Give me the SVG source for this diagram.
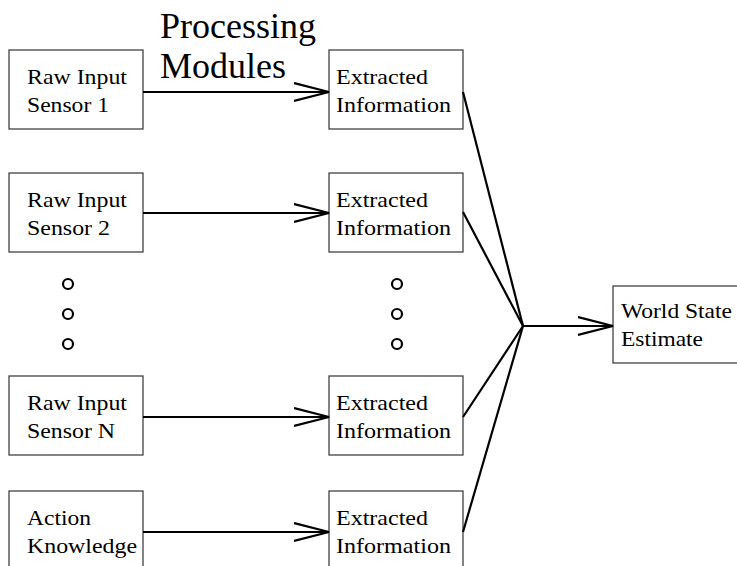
<svg xmlns="http://www.w3.org/2000/svg" width="737" height="566" viewBox="0 0 737 566">
  <style>
    .box { fill: #fff; stroke: #333; stroke-width: 1.2; }
    .lbl { font-family: "Liberation Serif", "Times New Roman", serif; font-size: 22px; fill: #000; }
    .title { font-family: "Liberation Serif", "Times New Roman", serif; font-size: 36px; fill: #000; }
    .wire { fill: none; stroke: #000; stroke-width: 2.2; }
    .dot { fill: none; stroke: #000; stroke-width: 2.2; }
  </style>
  <defs>
    <marker id="vee" markerUnits="userSpaceOnUse" markerWidth="40" markerHeight="24" refX="35" refY="10" orient="auto">
      <path d="M0,1 L35,10 L0,19" fill="none" stroke="#000" stroke-width="2.2"/>
    </marker>
  </defs>

  <rect width="737" height="566" fill="#fff"/>

  <text class="title" x="160" y="38">Processing</text>
  <text class="title" x="160" y="78">Modules</text>

  <!-- sources -->
  <g id="sensor1">
    <rect class="box" x="9" y="50" width="134" height="79"/>
    <text class="lbl" x="27" y="84" textLength="100" lengthAdjust="spacingAndGlyphs">Raw Input</text>
    <text class="lbl" x="27" y="112" textLength="82" lengthAdjust="spacingAndGlyphs">Sensor 1</text>
  </g>
  <g id="sensor2">
    <rect class="box" x="9" y="173" width="134" height="79"/>
    <text class="lbl" x="27" y="207" textLength="100" lengthAdjust="spacingAndGlyphs">Raw Input</text>
    <text class="lbl" x="27" y="235" textLength="83" lengthAdjust="spacingAndGlyphs">Sensor 2</text>
  </g>
  <g id="sensorN">
    <rect class="box" x="9" y="376" width="134" height="79"/>
    <text class="lbl" x="27" y="410" textLength="100" lengthAdjust="spacingAndGlyphs">Raw Input</text>
    <text class="lbl" x="27" y="438" textLength="88" lengthAdjust="spacingAndGlyphs">Sensor N</text>
  </g>
  <g id="action">
    <rect class="box" x="9" y="491" width="134" height="79"/>
    <text class="lbl" x="27" y="525" textLength="64" lengthAdjust="spacingAndGlyphs">Action</text>
    <text class="lbl" x="27" y="553" textLength="110" lengthAdjust="spacingAndGlyphs">Knowledge</text>
  </g>

  <!-- extracted information -->
  <g id="info1">
    <rect class="box" x="329" y="50" width="134" height="79"/>
    <text class="lbl" x="336" y="84" textLength="92" lengthAdjust="spacingAndGlyphs">Extracted</text>
    <text class="lbl" x="336" y="112" textLength="115" lengthAdjust="spacingAndGlyphs">Information</text>
  </g>
  <g id="info2">
    <rect class="box" x="329" y="173" width="134" height="79"/>
    <text class="lbl" x="336" y="207" textLength="92" lengthAdjust="spacingAndGlyphs">Extracted</text>
    <text class="lbl" x="336" y="235" textLength="115" lengthAdjust="spacingAndGlyphs">Information</text>
  </g>
  <g id="infoN">
    <rect class="box" x="329" y="376" width="134" height="79"/>
    <text class="lbl" x="336" y="410" textLength="92" lengthAdjust="spacingAndGlyphs">Extracted</text>
    <text class="lbl" x="336" y="438" textLength="115" lengthAdjust="spacingAndGlyphs">Information</text>
  </g>
  <g id="infoAction">
    <rect class="box" x="329" y="491" width="134" height="79"/>
    <text class="lbl" x="336" y="525" textLength="92" lengthAdjust="spacingAndGlyphs">Extracted</text>
    <text class="lbl" x="336" y="553" textLength="115" lengthAdjust="spacingAndGlyphs">Information</text>
  </g>

  <!-- fused result -->
  <g id="world">
    <rect class="box" x="613" y="286" width="135" height="77"/>
    <text class="lbl" x="621" y="318" textLength="111" lengthAdjust="spacingAndGlyphs">World State</text>
    <text class="lbl" x="621" y="346" textLength="82" lengthAdjust="spacingAndGlyphs">Estimate</text>
  </g>

  <!-- ellipsis dots -->
  <g id="ellipsis">
    <circle class="dot" cx="68" cy="284" r="5"/>
    <circle class="dot" cx="68" cy="314" r="5"/>
    <circle class="dot" cx="68" cy="344" r="5"/>
    <circle class="dot" cx="397" cy="284" r="5"/>
    <circle class="dot" cx="397" cy="314" r="5"/>
    <circle class="dot" cx="397" cy="344" r="5"/>
  </g>

  <g id="connectors">
    <line class="wire" x1="143" y1="92" x2="329" y2="92" marker-end="url(#vee)"/>
    <line class="wire" x1="143" y1="213" x2="329" y2="213" marker-end="url(#vee)"/>
    <line class="wire" x1="143" y1="417" x2="329" y2="417" marker-end="url(#vee)"/>
    <line class="wire" x1="143" y1="532" x2="329" y2="532" marker-end="url(#vee)"/>
    <line class="wire" x1="463" y1="92" x2="523" y2="326"/>
    <line class="wire" x1="463" y1="212" x2="523" y2="326"/>
    <line class="wire" x1="463" y1="417" x2="523" y2="326"/>
    <line class="wire" x1="463" y1="532" x2="523" y2="326"/>
    <line class="wire" x1="523" y1="326" x2="613" y2="326" marker-end="url(#vee)"/>
  </g>
</svg>
